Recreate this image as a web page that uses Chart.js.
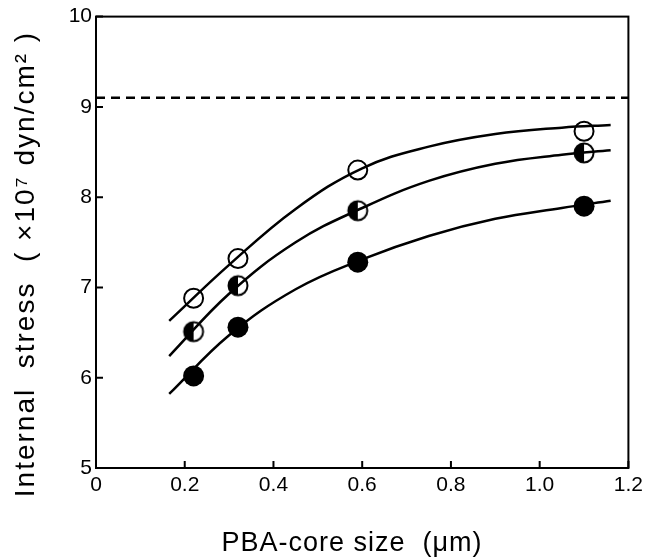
<!DOCTYPE html>
<html>
<head>
<meta charset="utf-8">
<script src="https://cdn.jsdelivr.net/npm/chart.js@4/dist/chart.umd.min.js"></script>
<style>
  html, body { margin: 0; padding: 0; background: #fff; }
  #wrap { width: 648px; height: 559px; }
</style>
</head>
<body>
<div id="wrap"><canvas id="chart" width="648" height="559"></canvas></div>
<script>
// Measured points (PBA-core size in um, internal stress x1e7 dyn/cm2)
const coreSize = [0.22, 0.32, 0.59, 1.10];
const openVals = [6.88, 7.32, 8.30, 8.73];
const halfVals = [6.51, 7.02, 7.85, 8.49];
const fullVals = [6.02, 6.56, 7.28, 7.90];

// Fitted curves
const curveX    = [0.165, 0.30, 0.45, 0.60, 0.75, 0.90, 1.05, 1.16];
const openCurve = [6.63, 7.25, 7.87, 8.32, 8.56, 8.70, 8.77, 8.80];
const halfCurve = [6.24, 6.93, 7.50, 7.88, 8.18, 8.37, 8.47, 8.52];
const fullCurve = [5.82, 6.47, 6.98, 7.31, 7.57, 7.76, 7.88, 7.96];

// Dashed limit line
const limitX = [0, 1.2];
const limitY = [9.1, 9.1];

const xTicks = [0, 0.2, 0.4, 0.6, 0.8, 1.0, 1.2];
const yTicks = [5, 6, 7, 8, 9, 10];

const xTitle = "PBA-core size  (μm)";
const yTitle = "Internal  stress  ( ×10⁷ dyn/cm² )";

const toPts = (xs, ys) => xs.map((x, i) => ({ x: x, y: ys[i] }));
const FONT = "Liberation Sans, Arial, sans-serif";

// Half-filled marker: left half black, right half white
function halfMarker() {
    const c = document.createElement("canvas");
    c.width = 24; c.height = 24;
    const g = c.getContext("2d");
    g.beginPath();
    g.arc(12, 12, 9.5, 0, Math.PI * 2);
    g.fillStyle = "#fff";
    g.fill();
    g.beginPath();
    g.arc(12, 12, 9.5, Math.PI / 2, Math.PI * 1.5);
    g.closePath();
    g.fillStyle = "#000";
    g.fill();
    g.beginPath();
    g.arc(12, 12, 9.5, 0, Math.PI * 2);
    g.lineWidth = 2;
    g.strokeStyle = "#000";
    g.stroke();
    return c;
}

// Box around the plot, inward ticks and the axis titles
const frame = {
    id: "frame",
    afterDraw(chart) {
        const { ctx, chartArea: a, scales } = chart;
        ctx.save();
        ctx.strokeStyle = "#000";
        ctx.lineWidth = 2;
        ctx.strokeRect(a.left, a.top, a.right - a.left, a.bottom - a.top);
        ctx.beginPath();
        xTicks.forEach(v => {
            const px = scales.x.getPixelForValue(v);
            ctx.moveTo(px, a.bottom);
            ctx.lineTo(px, a.bottom - 7);
        });
        yTicks.forEach(v => {
            const py = scales.y.getPixelForValue(v);
            ctx.moveTo(a.left, py);
            ctx.lineTo(a.left + 7, py);
        });
        ctx.stroke();

        ctx.fillStyle = "#000";
        ctx.textAlign = "center";
        ctx.textBaseline = "middle";
        ctx.letterSpacing = "1px";
        ctx.font = "27px " + FONT;
        ctx.fillText(xTitle, 352, 544);

        ctx.translate(26, 264);
        ctx.rotate(-Math.PI / 2);
        ctx.letterSpacing = "2px";
        ctx.font = "28px " + FONT;
        ctx.fillText(yTitle, 0, 0);
        ctx.restore();
    }
};

const curveStyle = {
    showLine: true,
    borderColor: "#000",
    borderWidth: 2.5,
    pointRadius: 0,
    tension: 0.4,
    fill: false
};

const ctx = document.getElementById("chart").getContext("2d");
new Chart(ctx, {
    type: "scatter",
    data: {
        datasets: [
            Object.assign({ data: toPts(curveX, openCurve) }, curveStyle),
            Object.assign({ data: toPts(curveX, halfCurve) }, curveStyle),
            Object.assign({ data: toPts(curveX, fullCurve) }, curveStyle),
            {
                data: toPts(limitX, limitY),
                showLine: true,
                borderColor: "#000",
                borderWidth: 2.5,
                borderDash: [9, 6],
                pointRadius: 0
            },
            {
                data: toPts(coreSize, openVals),
                pointRadius: 9.5,
                pointBackgroundColor: "#fff",
                pointBorderColor: "#000",
                pointBorderWidth: 2
            },
            {
                data: toPts(coreSize, halfVals),
                pointStyle: halfMarker()
            },
            {
                data: toPts(coreSize, fullVals),
                pointRadius: 10.5,
                pointBackgroundColor: "#000",
                pointBorderColor: "#000",
                pointBorderWidth: 0
            }
        ]
    },
    options: {
        responsive: false,
        animation: false,
        layout: { padding: { top: 15, right: 15, left: 0, bottom: 0 } },
        plugins: {
            legend: { display: false },
            tooltip: { enabled: false }
        },
        scales: {
            x: {
                type: "linear",
                min: 0,
                max: 1.2,
                afterBuildTicks: s => { s.ticks = xTicks.map(v => ({ value: v })); },
                afterFit: s => { s.height = 91; },
                grid: { display: false, drawTicks: false },
                border: { display: false },
                ticks: {
                    padding: 5,
                    color: "#000",
                    font: { family: FONT, size: 21 },
                    callback: v => (v === 0 ? "0" : v.toFixed(1))
                }
            },
            y: {
                min: 5,
                max: 10,
                afterBuildTicks: s => { s.ticks = yTicks.map(v => ({ value: v })); },
                afterFit: s => { s.width = 96; },
                grid: { display: false, drawTicks: false },
                border: { display: false },
                ticks: {
                    padding: 4,
                    color: "#000",
                    font: { family: FONT, size: 21 }
                }
            }
        }
    },
    plugins: [frame]
});
</script>
</body>
</html>
